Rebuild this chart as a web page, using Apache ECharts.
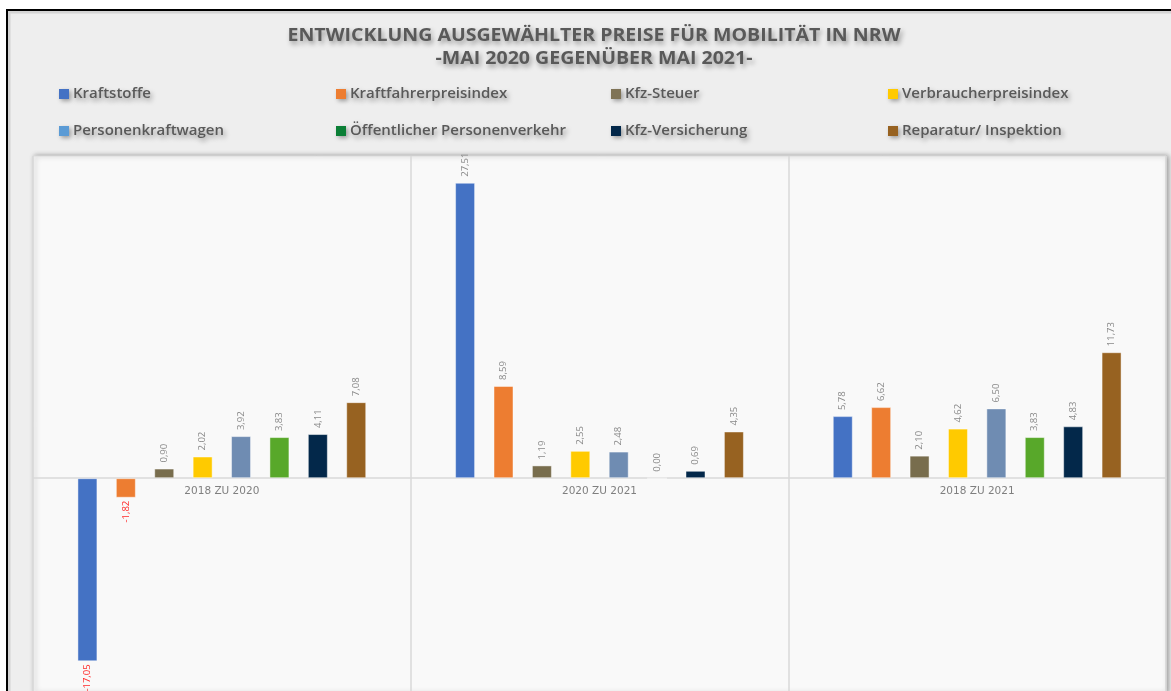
<!DOCTYPE html>
<html lang="de">
<head>
<meta charset="utf-8">
<title>Entwicklung ausgewählter Preise für Mobilität in NRW</title>
<script src="https://cdn.jsdelivr.net/npm/echarts@6/dist/echarts.min.js"></script>
<style>
  html, body { margin: 0; padding: 0; background: #ffffff; }
  #chart { width: 1171px; height: 691px; }
</style>
</head>
<body>
<div id="chart"></div>
<script>
// Zeiträume (Kategorien der x-Achse)
const categories = ['2018 ZU 2020', '2020 ZU 2021', '2018 ZU 2021'];

// Veränderung in Prozent je Preisgruppe
const kraftstoffe           = [-17.05, 27.51, 5.78];
const kraftfahrerpreisindex = [-1.82, 8.59, 6.62];
const kfzSteuer             = [0.90, 1.19, 2.10];
const verbraucherpreisindex = [2.02, 2.55, 4.62];
const personenkraftwagen    = [3.92, 2.48, 6.50];
const oepnv                 = [3.83, 0.00, 3.83];
const kfzVersicherung       = [4.11, 0.69, 4.83];
const reparatur             = [7.08, 4.35, 11.73];

const seriesNames = [
  'Kraftstoffe', 'Kraftfahrerpreisindex', 'Kfz-Steuer', 'Verbraucherpreisindex',
  'Personenkraftwagen', 'Öffentlicher Personenverkehr', 'Kfz-Versicherung', 'Reparatur/ Inspektion'
];
const seriesValues = [
  kraftstoffe, kraftfahrerpreisindex, kfzSteuer, verbraucherpreisindex,
  personenkraftwagen, oepnv, kfzVersicherung, reparatur
];

// Wertebereich der y-Achse
const yMin = -20;
const yMax = 30;

// Balkenfarben und Farben der Legendensymbole
const barColors = ['#4472C4', '#ED7D31', '#786D4D', '#FFCA00', '#6F8CB2', '#58A82A', '#03284A', '#976221'];
const legendColors = ['#4472C4', '#ED7D31', '#7F7356', '#FFCA00', '#5B9BD5', '#0B7F36', '#03284A', '#976221'];

// Spalten / Zeilen der Legende
const legendCols = [59, 336, 611, 888];
const legendRows = [85, 122];

// Zeichenfläche
const gridTop = 156;
const gridBottomY = 693;

const fmt = v => v.toFixed(2).replace('.', ',');

const textShadow = {
  textShadowColor: 'rgba(0,0,0,0.38)',
  textShadowBlur: 5,
  textShadowOffsetX: 2,
  textShadowOffsetY: 3
};

const chart = echarts.init(document.getElementById('chart'), null, { renderer: 'canvas' });

const legends = seriesNames.map((name, i) => ({
  left: legendCols[i % 4],
  top: legendRows[Math.floor(i / 4)],
  padding: 0,
  itemWidth: 10,
  itemHeight: 10,
  icon: 'rect',
  selectedMode: false,
  data: [{ name: name, itemStyle: { color: legendColors[i], borderWidth: 0, shadowColor: 'rgba(0,0,0,0.35)', shadowBlur: 4, shadowOffsetX: 2, shadowOffsetY: 2 } }],
  textStyle: Object.assign({
    fontFamily: '"Open Sans", sans-serif',
    fontSize: 15,
    fontWeight: 600,
    color: '#595959',
    lineHeight: 18,
    padding: [0, 0, 0, -1]
  }, textShadow)
}));

const series = seriesNames.map((name, i) => ({
  name: name,
  type: 'bar',
  barWidth: 20,
  barGap: '92%',
  data: seriesValues[i].map(v => ({
    value: v,
    label: v < 0
      ? { position: 'bottom', align: 'right', distance: 3, color: '#FF2B2B' }
      : { position: 'top', align: 'left', distance: 6, color: '#8A8A8A' }
  })),
  itemStyle: {
    color: barColors[i],
    borderColor: 'rgba(255,255,255,0.45)',
    borderWidth: 1
  },
  label: {
    show: true,
    rotate: 90,
    verticalAlign: 'middle',
    fontFamily: '"Open Sans", sans-serif',
    fontSize: 9.5,
    formatter: p => fmt(p.value)
  },
  emphasis: { disabled: true }
}));

// Abstand der Nulllinie vom unteren Rand der Zeichenfläche
const zeroOffset = (gridBottomY - gridTop) * (0 - yMin) / (yMax - yMin);

const titleStyle = {
  fontFamily: '"Open Sans", sans-serif',
  fontSize: 17,
  fontWeight: 'bold',
  fill: '#595959',
  align: 'center',
  verticalAlign: 'middle'
};

chart.setOption({
  animation: false,
  backgroundColor: '#ffffff',
  graphic: [
    {
      type: 'rect',
      z: -10,
      silent: true,
      shape: { x: 7, y: 10, width: 1190, height: 700 },
      style: { fill: '#EEEEEE', stroke: '#000000', lineWidth: 2 }
    },
    {
      type: 'rect',
      z: -9,
      silent: true,
      shape: { x: 9, y: 12, width: 1190, height: 700 },
      style: { fill: 'none', stroke: 'rgba(0,0,0,0.10)', lineWidth: 3, shadowColor: 'rgba(0,0,0,0.15)', shadowBlur: 8 }
    },
    {
      type: 'text',
      silent: true,
      x: 594,
      y: 36,
      scaleX: 1.15,
      style: Object.assign({ text: 'ENTWICKLUNG AUSGEWÄHLTER PREISE FÜR MOBILITÄT IN NRW' }, titleStyle, textShadow)
    },
    {
      type: 'text',
      silent: true,
      x: 594,
      y: 59,
      scaleX: 1.15,
      style: Object.assign({ text: '-MAI 2020 GEGENÜBER MAI 2021-' }, titleStyle, textShadow)
    }
  ],
  legend: legends,
  grid: {
    left: 33,
    right: 5,
    top: gridTop,
    bottom: 691 - gridBottomY,
    outerBoundsMode: 'none',
    containLabel: false,
    show: true,
    backgroundColor: '#F9F9F9',
    borderColor: '#DCDCDC',
    borderWidth: 1,
    shadowColor: 'rgba(0,0,0,0.35)',
    shadowBlur: 5,
    shadowOffsetX: 2,
    shadowOffsetY: 0
  },
  xAxis: [
    {
      type: 'category',
      data: categories,
      axisLine: { onZero: true, lineStyle: { color: '#D9D9D9', width: 1.5 } },
      axisTick: { show: false },
      splitLine: { show: true, lineStyle: { color: '#D9D9D9', width: 1.5 } },
      axisLabel: { show: false }
    },
    {
      // Beschriftung der Zeiträume direkt unter der Nulllinie
      type: 'category',
      data: categories,
      position: 'bottom',
      offset: -zeroOffset,
      axisLine: { show: false, onZero: false },
      axisTick: { show: false },
      splitLine: { show: false },
      axisLabel: {
        margin: 8,
        fontFamily: '"DejaVu Sans", sans-serif',
        fontSize: 10.5,
        color: '#7F7F7F'
      }
    }
  ],
  yAxis: {
    type: 'value',
    min: yMin,
    max: yMax,
    interval: 10,
    show: false,
    splitLine: { show: false }
  },
  series: series
});
</script>
</body>
</html>
